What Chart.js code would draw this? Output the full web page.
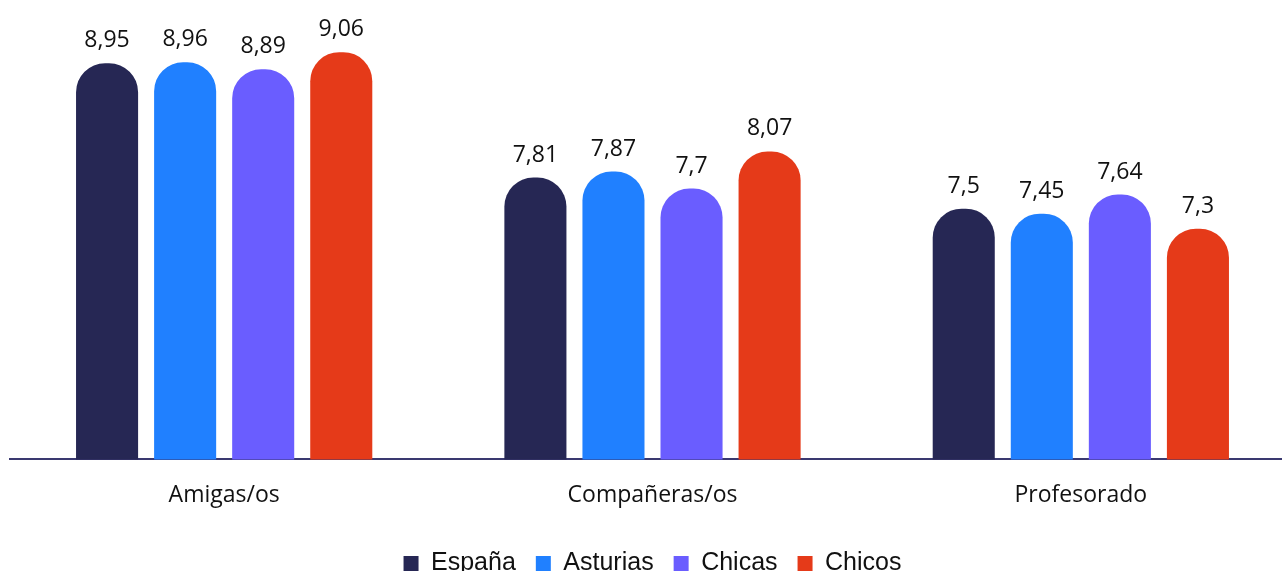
<!DOCTYPE html>
<html>
<head>
<meta charset="utf-8">
<script src="https://cdn.jsdelivr.net/npm/chart.js@4.4.1/dist/chart.umd.min.js"></script>
<style>
	html, body { margin: 0; padding: 0; background: #fff; overflow: hidden; }
	#wrap { width: 1282px; height: 571px; overflow: hidden; position: relative; }
	#box { position: absolute; left: 0; top: 0; width: 1295px; height: 586px; }
</style>
</head>
<body>
<div id="wrap"><div id="box"><canvas id="chart"></canvas></div></div>
<script>
var categories = ["Amigas/os", "Compañeras/os", "Profesorado"];
var espana = [8.95, 7.81, 7.5];
var asturias = [8.96, 7.87, 7.45];
var chicas = [8.89, 7.7, 7.64];
var chicos = [9.06, 8.07, 7.3];

function Serie(label, data, color) {
	return {
		label: label,
		data: data,
		backgroundColor: color,
		borderWidth: 0,
		borderRadius: { topLeft: 29, topRight: 29 },
		borderSkipped: "bottom",
		barPercentage: 0.795,
		categoryPercentage: 0.729,
	};
}

// valores encima de cada barra, con coma decimal
var valueLabels = {
	id: "valueLabels",
	afterDatasetsDraw: function (chart) {
		var ctx = chart.ctx;
		ctx.save();
		ctx.font = "23px 'Open Sans'";
		ctx.fillStyle = "#111";
		ctx.textAlign = "center";
		ctx.textBaseline = "alphabetic";
		chart.data.datasets.forEach(function (ds, i) {
			chart.getDatasetMeta(i).data.forEach(function (bar, j) {
				ctx.fillText(String(ds.data[j]).replace(".", ","), bar.x, bar.y - 16);
			});
		});
		ctx.restore();
	},
};

new Chart(document.getElementById("chart"), {
	type: "bar",
	data: {
		labels: categories,
		datasets: [
			Serie("España", espana, "#262754"),
			Serie("Asturias", asturias, "#2080FF"),
			Serie("Chicas", chicas, "#6A5DFF"),
			Serie("Chicos", chicos, "#E53A19"),
		],
	},
	options: {
		responsive: true,
		maintainAspectRatio: false,
		animation: false,
		layout: { padding: { left: 10, top: 0, right: 0, bottom: 0 } },
		plugins: {
			legend: {
				position: "bottom",
				labels: {
					boxWidth: 15,
					boxHeight: 15,
					padding: 20,
					color: "#111",
					font: { size: 25, family: "'Liberation Sans', Arial" },
				},
			},
			tooltip: { enabled: false },
		},
		scales: {
			x: {
				grid: { display: false, drawTicks: false },
				border: { display: true, color: "#3A3970", width: 2 },
				ticks: {
					color: "#111",
					padding: 22,
					font: { size: 23, family: "'Open Sans'" },
				},
			},
			y: {
				display: false,
				min: 5,
				max: 9.58,
			},
		},
	},
	plugins: [valueLabels],
});
</script>
</body>
</html>
